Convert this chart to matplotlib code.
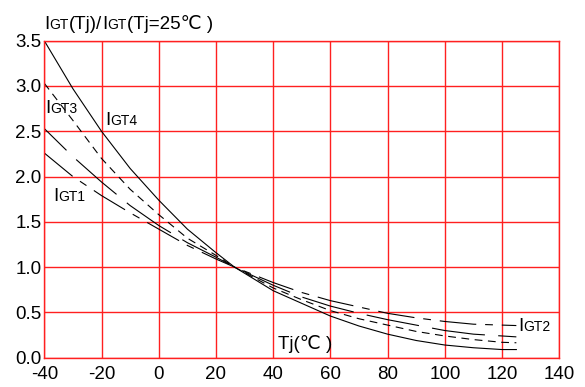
import matplotlib
matplotlib.use("Agg")
import matplotlib.pyplot as plt
from matplotlib.offsetbox import TextArea, HPacker, AnnotationBbox

plt.rcParams["font.family"] = ["Liberation Sans", "DejaVu Sans"]

# junction temperature (deg C) and normalized gate trigger current
tj = [-40, -30, -20, -10, 0, 10, 20, 26.5, 40, 50, 60, 70, 80, 90, 100, 110, 120, 125]
igt4 = [3.5, 2.97, 2.5, 2.09, 1.74, 1.42, 1.16, 1.0, 0.74, 0.60, 0.46, 0.35, 0.26, 0.19, 0.14, 0.11, 0.09, 0.09]
igt3 = [3.03, 2.62, 2.2, 1.86, 1.58, 1.32, 1.13, 1.0, 0.77, 0.64, 0.52, 0.43, 0.36, 0.29, 0.24, 0.20, 0.17, 0.165]
igt1 = [2.53, 2.22, 1.94, 1.68, 1.46, 1.27, 1.11, 1.0, 0.80, 0.67, 0.57, 0.49, 0.42, 0.36, 0.30, 0.26, 0.24, 0.23]
igt2 = [2.26, 2.0, 1.79, 1.60, 1.42, 1.24, 1.09, 1.0, 0.83, 0.72, 0.63, 0.56, 0.49, 0.44, 0.40, 0.37, 0.36, 0.355]

x_ticks = [-40, -20, 0, 20, 40, 60, 80, 100, 120, 140]
y_ticks = [0.0, 0.5, 1.0, 1.5, 2.0, 2.5, 3.0, 3.5]

BIG = 13.5
SMALL = 10


def igt_text(ax, x, y, parts):
    # parts: list of (text, size) drawn side by side on one baseline
    areas = [TextArea(t, textprops=dict(size=s, color="black")) for t, s in parts]
    box = HPacker(children=areas, align="baseline", pad=0, sep=0)
    ab = AnnotationBbox(box, (x, y), xycoords="data", box_alignment=(0, 0),
                        frameon=False, pad=0, annotation_clip=False)
    ax.add_artist(ab)


fig = plt.figure(figsize=(5.85, 3.87), dpi=100)
ax = fig.add_axes([0.0757, 0.0757, 0.8803, 0.8191])

ax.plot(tj, igt4, color="black", lw=0.8)
ax.plot(tj, igt3, color="black", lw=0.8, linestyle=(0, (7, 5)))
ax.plot(tj, igt1, color="black", lw=0.8, linestyle=(20, (48, 12)))
ax.plot(tj, igt2, color="black", lw=0.8, linestyle=(0, (33, 8, 7, 8)))

ax.set_xlim(-40, 140)
ax.set_ylim(0, 3.5)
ax.set_xticks(x_ticks)
ax.set_yticks(y_ticks)
ax.set_xticklabels([str(v) for v in x_ticks])
ax.set_yticklabels([f"{v:.1f}" for v in y_ticks])
ax.tick_params(length=0, labelsize=BIG)
ax.tick_params(axis="x", pad=6)
ax.tick_params(axis="y", pad=2)
ax.grid(True, color="#ff2020", lw=1.0)
ax.set_axisbelow(True)
for sp in ax.spines.values():
    sp.set_color("#ff2020")
    sp.set_linewidth(1.0)

igt_text(ax, -40, 3.59, [("I", BIG), ("GT", SMALL), ("(Tj)/", BIG), ("I", BIG), ("GT", SMALL), ("(Tj=25℃ )", BIG)])
igt_text(ax, -39.7, 2.655, [("I", BIG), ("GT3", SMALL)])
igt_text(ax, -18.8, 2.525, [("I", BIG), ("GT4", SMALL)])
igt_text(ax, -37, 1.685, [("I", BIG), ("GT1", SMALL)])
igt_text(ax, 125.6, 0.255, [("I", BIG), ("GT2", SMALL)])
igt_text(ax, 41.7, 0.05, [("Tj(℃ )", BIG)])

fig.savefig("out.png", dpi=100)
